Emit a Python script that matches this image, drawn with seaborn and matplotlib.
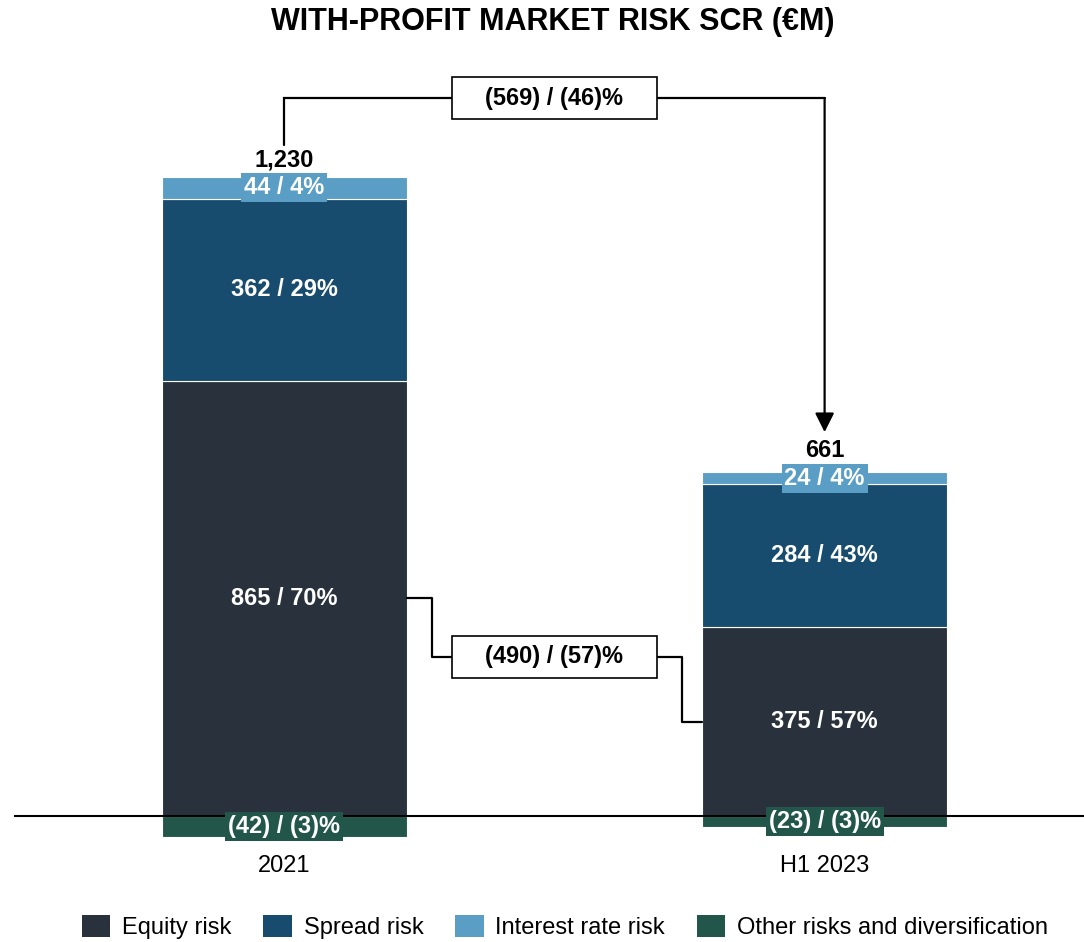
import matplotlib
matplotlib.use("Agg")
import matplotlib.pyplot as plt
from matplotlib.patches import Patch, Rectangle
import seaborn as sns

# ---- data (€M and share of total) ----
categories = ["2021", "H1 2023"]
equity = [865, 375]
equity_pct = [70, 57]
spread = [362, 284]
spread_pct = [29, 43]
interest = [44, 24]
interest_pct = [4, 4]
other = [-42, -23]
other_pct = [-3, -3]
totals = ["1,230", "661"]
total_change = (-569, -46)
equity_change = (-490, -57)

series_names = ["Equity risk", "Spread risk", "Interest rate risk",
                "Other risks and diversification"]
colors = ["#29323c", "#184c6e", "#5a9ec6", "#22564a"]

sns.set_theme(style="white")
plt.rcParams["font.family"] = ["Liberation Sans", "DejaVu Sans"]

fig = plt.figure(figsize=(10.84, 9.42), dpi=100)
ax = fig.add_axes([14 / 1084, 100 / 942, 1070 / 1084, 782 / 942])

BAR_W = 0.453
FS = 17


def fmt(v):
    return f"({abs(v)})" if v < 0 else f"{v}"


def seg_label(v, p):
    return f"{fmt(v)} / {fmt(p)}%"


# stacked segments: positive ones stacked upward, diversification below zero
bottoms_eq = [0, 0]
bottoms_sp = equity
bottoms_ir = [e + s for e, s in zip(equity, spread)]
layers = [
    (equity, bottoms_eq, colors[0]),
    (spread, bottoms_sp, colors[1]),
    (interest, bottoms_ir, colors[2]),
    (other, [0, 0], colors[3]),
]
for vals, bots, col in layers:
    sns.barplot(x=categories, y=vals, bottom=bots, color=col, width=BAR_W,
                saturation=1, edgecolor="white", linewidth=0.8, ax=ax)

# zero line
ax.axhline(0, color="black", lw=1.5, zorder=3)

txt_kw = dict(ha="center", va="center", color="white", fontsize=FS,
              fontweight="bold", zorder=5)
for i in range(len(categories)):
    ax.text(i, equity[i] / 2, seg_label(equity[i], equity_pct[i]), **txt_kw)
    ax.text(i, equity[i] + spread[i] / 2, seg_label(spread[i], spread_pct[i]), **txt_kw)
    ir_mid = bottoms_ir[i] + interest[i] / 2
    ax.text(i, ir_mid, seg_label(interest[i], interest_pct[i]),
            bbox=dict(boxstyle="square,pad=0.12", fc=colors[2], ec="none"), **txt_kw)
    ax.text(i, other[i] / 2, seg_label(other[i], other_pct[i]),
            bbox=dict(boxstyle="square,pad=0.12", fc=colors[3], ec="none"), **txt_kw)
    ax.annotate(totals[i], xy=(i, ir_mid), xytext=(0, 20), textcoords="offset points",
                ha="center", va="center", fontsize=FS, fontweight="bold",
                color="black", zorder=5)

# change connector between totals
top_y = 1427
ax.plot([0, 0, 1], [1334, top_y, top_y], color="black", lw=1.6,
        solid_joinstyle="miter", zorder=4)
ax.annotate("", xy=(1, 763), xytext=(1, top_y),
            arrowprops=dict(arrowstyle="-|>,head_length=0.58,head_width=0.29",
                            color="black", lw=1.6, mutation_scale=20,
                            shrinkA=0, shrinkB=0), zorder=4)
box_w, box_h = 0.379, 83
ax.add_patch(Rectangle((0.5 - box_w / 2, top_y - box_h / 2), box_w, box_h,
                       fc="white", ec="black", lw=1.2, zorder=5))
ax.text(0.5, top_y, seg_label(*total_change), ha="center", va="center",
        fontsize=FS, fontweight="bold", color="black", zorder=6)

# connector between equity segments
half = BAR_W / 2
mid_y = 316
ax.plot([half, 0.273, 0.273, 0.737, 0.737, 1 - half],
        [equity[0] / 2, equity[0] / 2, mid_y, mid_y, equity[1] / 2, equity[1] / 2],
        color="black", lw=1.6, zorder=4)
ax.add_patch(Rectangle((0.5 - box_w / 2, mid_y - box_h / 2), box_w, box_h,
                       fc="white", ec="black", lw=1.2, zorder=5))
ax.text(0.5, mid_y, seg_label(*equity_change), ha="center", va="center",
        fontsize=FS, fontweight="bold", color="black", zorder=6)

ax.set_xlim(-0.5, 1.48)
ax.set_ylim(-52, 1503)
for s in ax.spines.values():
    s.set_visible(False)
ax.set_yticks([])
ax.tick_params(axis="x", length=0, labelsize=FS, pad=9, colors="black")
ax.set_xlabel("")
ax.set_ylabel("")

fig.text(0.51, 1 - 22 / 942, "WITH-PROFIT MARKET RISK SCR (€M)", ha="center",
         va="center", fontsize=22, fontweight="bold", color="black")

handles = [Patch(facecolor=c, edgecolor="none", label=n)
           for c, n in zip(colors, series_names)]
fig.legend(handles=handles, loc="center", ncol=4,
           bbox_to_anchor=(565 / 1084, 1 - 927 / 942), frameon=False,
           fontsize=FS, handlelength=1.2, handleheight=1.1, labelcolor="black",
           handletextpad=0.5, columnspacing=1.35, borderpad=0.2)

fig.savefig("out.png", dpi=100)
